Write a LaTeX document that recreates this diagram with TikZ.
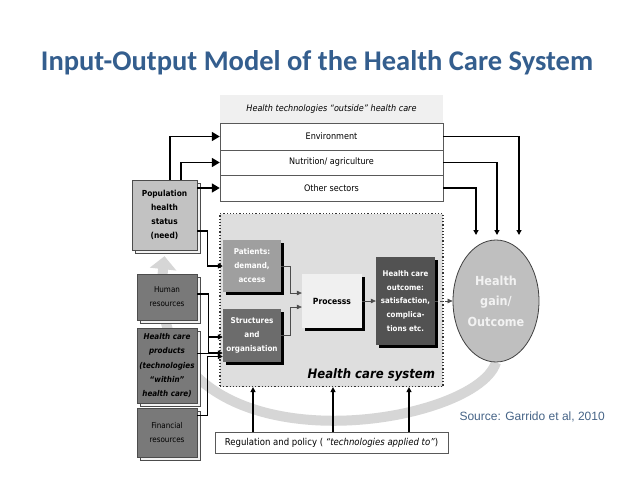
\documentclass[tikz,border=0pt]{standalone}
\usepackage{fontspec}
\setmainfont{DejaVu Sans Condensed}
\newfontfamily\titlefont{Carlito}
\newfontfamily\srcfont{Liberation Sans}
\usetikzlibrary{arrows.meta,shapes.geometric,shadows}
\pgfdeclarelayer{back}
\pgfdeclarelayer{bg}
\pgfsetlayers{back,bg,main}
\definecolor{titleblue}{RGB}{52,94,142}
\definecolor{srcblue}{RGB}{70,100,135}
\definecolor{hcsfill}{RGB}{222,222,222}
\definecolor{bandgray}{RGB}{214,214,214}
\begin{document}
\begin{tikzpicture}[x=1pt,y=-1pt,
  row/.style={draw=gray!70!black, fill=white, minimum width=223pt, inner sep=0pt, font=\fontsize{9}{11}\selectfont},
  leftbox/.style={draw=gray!60!black, minimum width=60pt, inner sep=1pt, align=center,
    drop shadow={shadow xshift=3.5pt, shadow yshift=-3.5pt, fill=gray!10, draw=gray!60!black, opacity=1}},
  inbox/.style={minimum width=58pt, inner sep=1pt, align=center,
    drop shadow={shadow xshift=3pt, shadow yshift=-3pt, fill=black, opacity=1}},
  bigarrow/.style={line width=1.6pt, -{Triangle[length=8pt,width=9pt]}},
  medarrow/.style={line width=1.3pt, -{Triangle[length=5pt,width=5pt]}},
  thinarrow/.style={line width=0.6pt, draw=gray!60!black, -{Triangle[length=5pt,width=4.5pt]}},
]
\begin{pgfonlayer}{back}
\useasboundingbox[fill=white] (0,0) rectangle (638,479);
\end{pgfonlayer}

% title
\node[font=\titlefont\bfseries\fontsize{28.5}{32}\selectfont, text=titleblue, anchor=base] (title) at (317,70) {Input-Output Model of the Health Care System};

% top table
\node[fill=gray!12, minimum width=223pt, minimum height=28pt, inner sep=0pt, font=\fontsize{9}{11}\selectfont\itshape] (head) at (331.5,109) {Health technologies “outside” health care};
\node[row, minimum height=27pt] (env) at (331.5,136.5) {Environment};
\node[row, minimum height=25pt] (nut) at (331.5,162.5) {Nutrition/ agriculture};
\node[row, minimum height=26pt] (oth) at (331.5,188) {Other sectors};

% health care system region
\node[draw=black!80, dotted, line width=1.2pt, fill=hcsfill, minimum width=223pt, minimum height=173pt, inner sep=0pt] (hcs) at (331.5,300) {};
\node[anchor=base east, font=\bfseries\itshape\fontsize{13}{15}\selectfont] (hcslabel) at ([xshift=-5pt,yshift=8.5pt]hcs.south east) {Health care system};

% inner boxes
\node[inbox, fill=gray!75, text=white, minimum height=52pt, font=\bfseries\fontsize{8}{14}\selectfont] (pat) at (252,266) {Patients:\\demand,\\access};
\node[inbox, fill=gray!85!black, text=white, minimum height=53pt, font=\bfseries\fontsize{8}{14}\selectfont] (str) at (252,335.5) {Structures\\and\\organisation};
\node[inbox, fill=gray!12, minimum width=60pt, minimum height=54pt, font=\bfseries\fontsize{8.5}{14}\selectfont] (proc) at (332,301) {Processs};
\node[inbox, fill=black!68, text=white, minimum width=59pt, minimum height=88pt, font=\bfseries\fontsize{7.8}{13.8}\selectfont] (out) at (405.5,301) {Health care\\outcome:\\satisfaction,\\complica-\\tions etc.};

% ellipse
\node[ellipse, draw=black!75, line width=0.8pt, fill=gray!50, text=white!95!black, minimum width=86pt, minimum height=122pt, inner sep=0pt, align=center, font=\bfseries\fontsize{12.5}{20.5}\selectfont] (ell) at (496,301) {Health\\gain/\\Outcome};

% left boxes
\node[leftbox, fill=gray!48, minimum width=65pt, minimum height=70pt, font=\bfseries\fontsize{8.3}{14}\selectfont] (pop) at (164.5,215) {Population\\health\\status\\(need)};
\node[leftbox, fill=gray!95!black, text=black, minimum height=46pt, font=\fontsize{8}{14}\selectfont] (hum) at (167,297) {Human\\resources};
\node[leftbox, fill=gray!95!black, minimum height=75pt, font=\bfseries\itshape\fontsize{8}{14.3}\selectfont] (prod) at (167,365.5) {Health care\\products\\(technologies\\“within”\\health care)};
\node[leftbox, fill=gray!95!black, text=black, minimum height=49pt, font=\fontsize{8}{14}\selectfont] (fin) at (167,432.5) {Financial\\resources};

% regulation
\node[draw=gray!70!black, fill=white, minimum width=233pt, minimum height=21pt, inner sep=0pt, font=\fontsize{9.5}{11}\selectfont] (reg) at (331.5,442.5) {Regulation and policy ( \textit{“technologies applied to”})};

% source
\node[font=\srcfont\fontsize{12}{14}\selectfont, text=srcblue, anchor=base west] (src) at (456,420) {Source: Garrido et al, 2010};

% free ends above the ellipse
\coordinate (e1) at (519,235);
\coordinate (e2) at (497,235);
\coordinate (e3) at (476,235);

% big grey feedback arrow
\begin{pgfonlayer}{bg}
\draw[draw=bandgray, line width=10pt, -{Triangle[length=13pt,width=26pt]}] (ell.south) .. controls (475,430) and (140,480) .. ([yshift=-6pt]pop.south);
\end{pgfonlayer}

% connectors from population box
\draw[bigarrow] ([xshift=5.5pt]pop.north) |- (env.west);
\draw[bigarrow] ([xshift=16.5pt]pop.north) |- (nut.west);
\draw[bigarrow] (pop.east |- oth.west) -- (oth.west);
\draw[medarrow] ([yshift=-16pt]pop.east) -- ++(10,0) |- (pat.west);

% connectors from resources
\draw[medarrow] ([yshift=3pt]hum.east) -- ++(11,0) |- ([yshift=-17.5pt]str.west);
\draw[medarrow] ([yshift=12pt]prod.east) -- ++(11,0) |- ([yshift=-1.5pt]str.west);
\draw[medarrow] ([yshift=17pt]fin.east) -- ++(10,0) |- ([yshift=-21pt]str.west);

% inside the system
\draw[thinarrow] (pat.east) -- ++(9,0) |- ([yshift=8pt]proc.west);
\draw[thinarrow] (str.east) -- ++(9,0) |- ([yshift=-6pt]proc.west);
\draw[thinarrow] (proc.east) -- (out.west);
\draw[thinarrow, densely dashed] (out.east) -- (ell.west);

% outside sectors to outcome
\draw[medarrow] (env.east) -| (e1);
\draw[medarrow] (nut.east) -| (e2);
\draw[medarrow] (oth.east) -| (e3);

% regulation arrows
\draw[medarrow] ([xshift=-78.5pt]reg.north) -- ([xshift=-78.5pt]hcs.south);
\draw[medarrow] ([xshift=1.5pt]reg.north) -- ([xshift=1.5pt]hcs.south);
\draw[medarrow] ([xshift=77.5pt]reg.north) -- ([xshift=77.5pt]hcs.south);
\end{tikzpicture}
\end{document}
